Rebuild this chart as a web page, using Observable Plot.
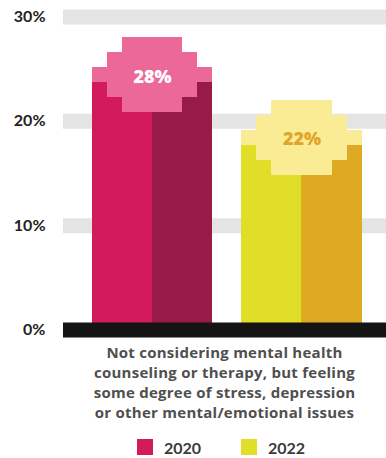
<!DOCTYPE html>
<html>
<head>
<meta charset="utf-8">
<script src="https://cdn.jsdelivr.net/npm/d3@7"></script>
<script src="https://cdn.jsdelivr.net/npm/@observablehq/plot@0.6"></script>
<style>
  html, body { margin: 0; padding: 0; background: #fff; }
  body { width: 386px; height: 458px; overflow: hidden; font-family: "Open Sans", Lato, sans-serif; }
  #category { margin: 2px 0 0 63px; width: 323px; text-align: center; font-size: 15px; letter-spacing: 0.25px; line-height: 20px; font-weight: 700; color: #4f4f4f; }
  #legend { margin-top: 17px; display: flex; justify-content: center; padding-left: 56px; height: 16px; align-items: center; font-size: 16px; font-weight: 700; color: #3a3a3a; font-family: Lato, sans-serif; }
  .item { display: flex; align-items: center; }
  .item + .item { margin-left: 40px; }
  .sw { width: 16px; height: 16px; margin-right: 11px; }
</style>
</head>
<body>
<div id="chart"></div>
<div id="category"></div>
<div id="legend"></div>
<script>
const years = ["2020", "2022"];
const values = [28, 22];
const leftColors = ["#D31B5C", "#E0DE26"];
const rightColors = ["#981A46", "#DEAA24"];
const badgeColors = ["#EC6898", "#F9EC95"];
const labelColors = ["#FFFFFF", "#E0A52A"];
const yTicks = [0, 10, 20, 30];
const gridTicks = [10, 20, 30];
const categoryLines = [
  "Not considering mental health",
  "counseling or therapy, but feeling",
  "some degree of stress, depression",
  "or other mental/emotional issues"
];

const data = years.map((y, i) => ({
  year: y, value: values[i],
  left: leftColors[i], right: rightColors[i],
  badge: badgeColors[i], label: labelColors[i]
}));

// pixel "badge" geometry (styling)
const yTop = 16.5, yZero = 329.5, H = 340;
const rowU = 15 * 30 / (yZero - yTop);   // one pixel-row in % units
const rowInsets = [30, 15, 0, 15, 30];

const badgeMarks = rowInsets.map((inset, k) =>
  Plot.rectY(data, {
    x: "year",
    y1: d => d.value - (k + 1) * rowU,
    y2: d => d.value - k * rowU,
    fill: "badge",
    insetLeft: inset, insetRight: inset,
    shapeRendering: "crispEdges"
  })
);

const chart = Plot.plot({
  width: 386, height: H,
  marginLeft: 63, marginRight: 0,
  marginTop: yTop, marginBottom: H - yZero,
  style: { fontFamily: "Lato, 'Open Sans', sans-serif", fontSize: "16px", fontWeight: 700, color: "#222", background: "transparent" },
  x: { domain: years, range: [63, 390.5], paddingInner: 0.197, paddingOuter: 0.194, round: false, axis: null },
  y: { domain: [0, 30], axis: null },
  color: { type: "identity" },
  marks: [
    Plot.ruleY(gridTicks, { stroke: "#E4E4E4", strokeWidth: 15 }),
    Plot.rectY(data, { x: "year", y1: 0, y2: d => d.value - 2 * rowU, fill: "left", insetRight: 60, shapeRendering: "crispEdges" }),
    Plot.rectY(data, { x: "year", y1: 0, y2: d => d.value - 2 * rowU, fill: "right", insetLeft: 60, shapeRendering: "crispEdges" }),
    ...badgeMarks,
    Plot.ruleY([0], { stroke: "#141414", strokeWidth: 15 }),
    Plot.text(data, {
      x: "year", y: d => d.value - 2.5 * rowU, text: d => d.value + "%",
      fill: "label", fontSize: 18, fontWeight: 800, dy: 1.5,
      fontFamily: "'Open Sans', Lato, sans-serif"
    }),
    Plot.axisY({
      ticks: yTicks, tickSize: 0, tickPadding: 18,
      tickFormat: d => d + "%", fontSize: 16, fontWeight: 700, fill: "#222"
    })
  ]
});
document.getElementById("chart").appendChild(chart);

document.getElementById("category").innerHTML = categoryLines.map(l => `<div>${l}</div>`).join("");
document.getElementById("legend").innerHTML = years.map((y, i) =>
  `<div class="item"><div class="sw" style="background:${leftColors[i]}"></div><span>${y}</span></div>`
).join("");
</script>
</body>
</html>
